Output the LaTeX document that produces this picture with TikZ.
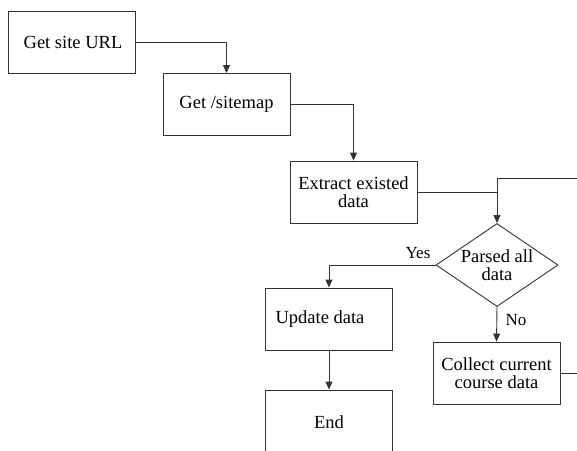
\documentclass[tikz,border=0pt]{standalone}
\usepackage{fontspec}
\setmainfont{Liberation Serif}
\usetikzlibrary{shapes.geometric,arrows.meta}
\begin{document}
\begin{tikzpicture}[x=1pt,y=-1pt,
  font=\fontsize{18.5}{18}\selectfont,
  line/.style={draw=black!80, line width=0.9pt},
  arr/.style={line, -{Triangle[length=8pt,width=7pt]}},
  box/.style={line, rectangle, minimum width=127pt, minimum height=62pt, inner sep=0pt, align=center},
  dec/.style={line, diamond, minimum width=122pt, minimum height=83pt, inner sep=0pt},
  lbl/.style={inner sep=0pt, font=\fontsize{17}{14}\selectfont}
]
\fill[white] (0,0) rectangle (577,450);
\useasboundingbox (0,0) rectangle (577,450);
\clip (0,0) rectangle (577,450);

\node[box] (b1) at (71.5,42) {\hspace*{3pt}Get site URL};
\node[box] (b2) at (226.5,104.5) {Get /sitemap};
\node[box] (b3) at (353.5,192) {Extract existed\\data};
\node[dec, label={[align=center]center:Parsed all\\data}] (dec) at (497,265) {};
\node[box, label={[xshift=-9pt]center:Update data}] (upd) at (329,319) {};
\node[box, minimum height=100pt, label={[yshift=18pt]center:End}] (endn) at (329,440) {};
\node[box] (col) at (496.5,373) {Collect current\\course data};

\node[lbl] (yes) at (418,253) {Yes};
\node[lbl] (no) at (516,320) {No};

\coordinate (rx) at (600,178);
\coordinate (j) at (497,178);

\draw[arr] (b1.east) -| (b2.north);
\draw[arr] (b2.east) -| (b3.north);
\draw[arr] (b3.east) -| (dec.north);
\draw[arr] (dec.west) -| (upd.north);
\draw[arr] (upd.south) -- (endn.north);
\draw[arr] (dec.south) -- (col.north);
\draw[line] (col.east) -| (rx) -- (j) -- (j |- b3.east);
\end{tikzpicture}
\end{document}
